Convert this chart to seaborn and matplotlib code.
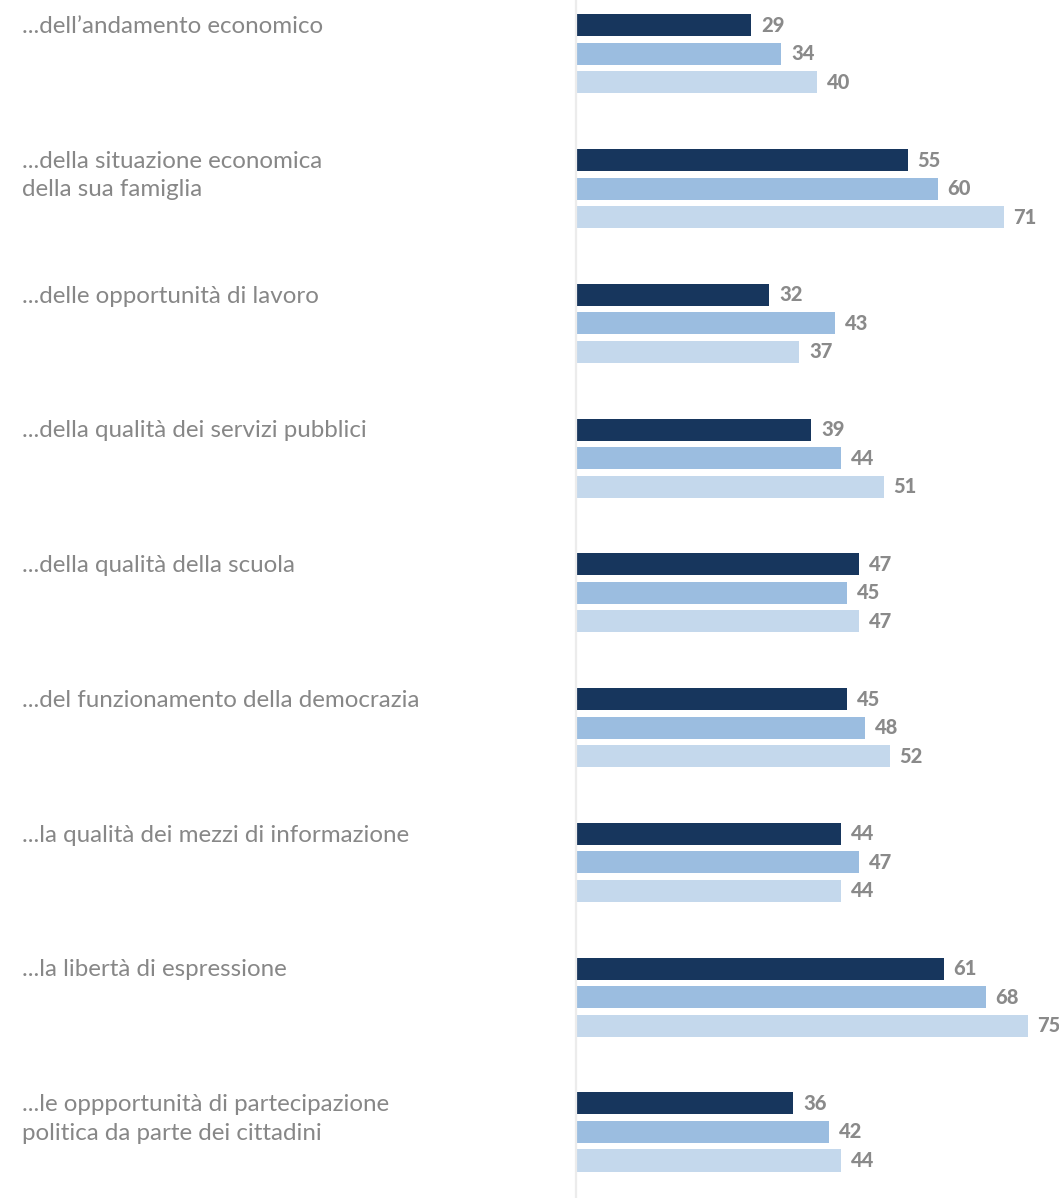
import matplotlib
matplotlib.use("Agg")
import matplotlib.pyplot as plt
import matplotlib.transforms as mtransforms
import seaborn as sns
import pandas as pd

# Categories (left-hand labels) and the three series shown for each
categories = [
    "...dell’andamento economico",
    "...della situazione economica\ndella sua famiglia",
    "...delle opportunità di lavoro",
    "...della qualità dei servizi pubblici",
    "...della qualità della scuola",
    "...del funzionamento della democrazia",
    "...la qualità dei mezzi di informazione",
    "...la libertà di espressione",
    "...le oppportunità di partecipazione\npolitica da parte dei cittadini",
]
series_names = ["s1", "s2", "s3"]
values_s1 = [29, 55, 32, 39, 47, 45, 44, 61, 36]
values_s2 = [34, 60, 43, 44, 45, 48, 47, 68, 42]
values_s3 = [40, 71, 37, 51, 47, 52, 44, 75, 44]
colors = ["#17365d", "#9bbde0", "#c4d8ec"]

rows = []
for name, vals in zip(series_names, [values_s1, values_s2, values_s3]):
    for cat, v in zip(categories, vals):
        rows.append({"categoria": cat, "serie": name, "valore": v})
df = pd.DataFrame(rows)

sns.set_theme(style="white")
plt.rcParams["font.family"] = ["Lato", "DejaVu Sans"]

W, H = 1059, 1198
fig = plt.figure(figsize=(W / 100, H / 100), dpi=100)
ax = fig.add_axes([577 / W, 0, 1 - 577 / W, 1])

group_width = 0.635
gap = 0.228
sns.barplot(
    data=df, x="valore", y="categoria", hue="serie", order=categories,
    hue_order=series_names, palette=colors, orient="h",
    width=group_width, gap=gap, dodge=True, legend=False,
    saturation=1, ax=ax, errorbar=None, linewidth=0,
)

ax.set_xlim(0, 80.2)
ax.set_ylim(8.49, -0.40)
ax.axis("off")

# thin vertical baseline just left of the bars
fig.add_artist(plt.Line2D([575.8 / W, 575.8 / W], [0, 1], color="#ececec",
                          lw=1.6, transform=fig.transFigure))

# value labels
for container in ax.containers:
    ax.bar_label(container, fmt="%d", padding=7, fontsize=14.5,
                 fontweight="black", color="#8a8a8a")

# category labels, first line aligned to the first bar of each group
trans = mtransforms.blended_transform_factory(fig.transFigure, ax.transData)
bar_h = group_width / 3 * (1 - gap)
offset = -group_width / 3
for i, cat in enumerate(categories):
    ax.text(22 / W, i + offset - bar_h / 2 + 0.012, cat, transform=trans,
            ha="left", va="top", fontsize=17.4, fontweight="normal",
            color="#878787", linespacing=1.44)

fig.savefig("out.png", dpi=100)
